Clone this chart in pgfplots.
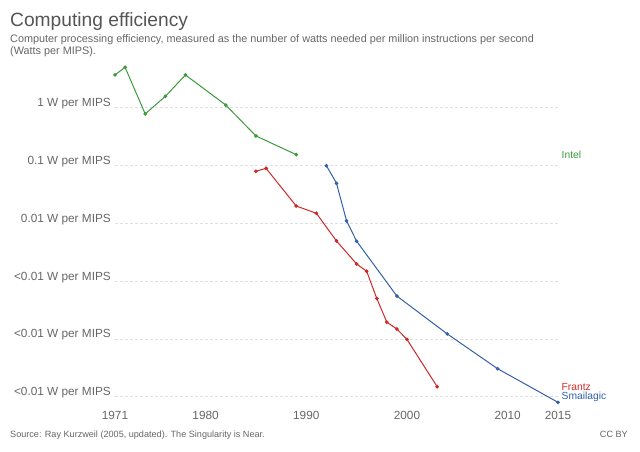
\documentclass[border=0pt]{standalone}
\usepackage{pgfplots}
\pgfplotsset{compat=1.18}
\usepackage{fontspec}
\setmainfont{Liberation Sans}
\definecolor{intel}{RGB}{60,155,60}
\definecolor{frantz}{RGB}{206,40,40}
\definecolor{smai}{RGB}{51,96,169}
\definecolor{txt}{RGB}{85,85,85}
\definecolor{lbl}{RGB}{102,102,102}
\begin{document}
\begin{tikzpicture}[x=1pt,y=1pt]
\path[use as bounding box] (0,0) rectangle (640,452);
\node[anchor=base west, inner sep=0, text=txt, font=\fontsize{19.2}{22}\selectfont] at (10,425) {Computing efficiency};
\node[anchor=base west, inner sep=0, text=lbl, font=\fontsize{10.85}{12}\selectfont] at (10,409.5) {Computer processing efficiency, measured as the number of watts needed per million instructions per second};
\node[anchor=base west, inner sep=0, text=lbl, font=\fontsize{10.85}{12}\selectfont] at (10,397) {(Watts per MIPS).};
\node[anchor=base west, inner sep=0, text=lbl, font=\fontsize{9.1}{10}\selectfont] at (10,14.5) {Source: Ray Kurzweil (2005, updated). The Singularity is Near.};
\node[anchor=base east, inner sep=0, text=lbl, font=\fontsize{9.1}{10}\selectfont] at (628,14.5) {CC BY};
\begin{axis}[
  at={(115pt,49.5pt)}, anchor=south west,
  scale only axis, width=443pt, height=335.3pt,
  xmin=1971, xmax=2015,
  ymode=log, ymin=7.94e-6, ymax=5.01,
  clip=false,
  axis line style={draw=none},
  major tick length=0pt,
  xtick={1971,1980,1990,2000,2010,2015},
  xticklabels={1971,1980,1990,2000,2010,2015},
  ytick={1,0.1,0.01,0.001,0.0001,0.00001},
  yticklabels={1 W per MIPS,0.1 W per MIPS,0.01 W per MIPS,<0.01 W per MIPS,<0.01 W per MIPS,<0.01 W per MIPS},
  ymajorgrids,
  major grid style={densely dashed, draw=black!12, line width=0.6pt},
  minor ytick={},
  yminorgrids=false,
  tick label style={text=lbl, font=\fontsize{11.8}{13}\selectfont, inner sep=0pt},
  yticklabel style={anchor=base east, xshift=-4pt, yshift=1pt},
  xticklabel style={anchor=base, yshift=-16.5pt},
  every axis plot/.append style={line width=1pt, mark=*, mark size=1.3pt},
]
\addplot[intel, mark options={fill=intel, draw=intel}] coordinates {
(1971,3.68) (1972,5.0) (1974,0.78) (1976,1.57) (1978,3.68) (1982,1.11) (1985,0.324) (1989,0.154)};
\addplot[frantz, mark options={fill=frantz, draw=frantz}] coordinates {
(1985,0.0794) (1986,0.0894) (1989,0.0199) (1991,0.0149) (1993,0.00494) (1995,0.00198) (1996,0.00148) (1997,0.0005) (1998,0.000195) (1999,0.000148) (2000,0.000098) (2003,0.0000149)};
\addplot[smai, mark options={fill=smai, draw=smai}] coordinates {
(1992,0.099) (1993,0.0492) (1994,0.011) (1995,0.0049) (1999,0.00055) (2004,0.000122) (2009,0.0000305) (2015,0.000008)};
\node[anchor=west, text=intel, inner sep=0, xshift=3.5pt, font=\fontsize{10.3}{12}\selectfont] at (axis cs:2015,0.154) {Intel};
\node[anchor=west, text=frantz, inner sep=0, xshift=3.5pt, font=\fontsize{10.3}{12}\selectfont] at (axis cs:2015,0.0000149) {Frantz};
\node[anchor=west, text=smai, inner sep=0, xshift=3.5pt, yshift=5pt, font=\fontsize{10.3}{12}\selectfont] at (axis cs:2015,0.000008) {Smailagic};
\end{axis}
\end{tikzpicture}
\end{document}
